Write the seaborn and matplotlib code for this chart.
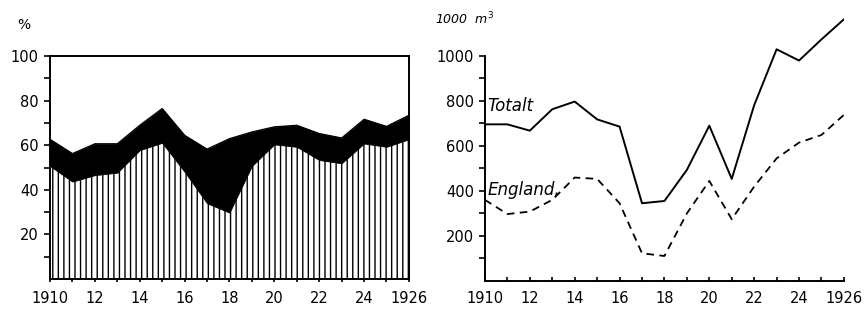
import numpy as np
import matplotlib
matplotlib.use("Agg")
import matplotlib.pyplot as plt
import seaborn as sns

# -------------------- DATA --------------------------------
years = list(range(1910, 1927))

# left panel: share in % (hatched part and top of black band)
pct_lower = [50.7, 43.7, 46.6, 47.7, 57.8, 61.1, 48.1, 34.0, 29.8,
             50.7, 60.4, 59.3, 53.4, 51.9, 60.8, 59.3, 62.7]
pct_upper = [62.7, 56.3, 60.7, 60.7, 69.0, 76.5, 64.5, 58.3, 63.0,
             66.0, 68.3, 69.0, 65.3, 63.3, 71.7, 68.5, 73.5]

# right panel: volume in 1000 m3
totalt = [695, 695, 667, 762, 796, 717, 685, 345, 355,
          493, 689, 453, 780, 1028, 978, 1072, 1161]
england = [360, 297, 308, 360, 459, 453, 345, 123, 111,
           300, 444, 274, 419, 544, 614, 648, 737]

xtick_labels = ["1910", "", "12", "", "14", "", "16", "", "18", "",
                "20", "", "22", "", "24", "", "1926"]

# -------------------- STYLE -------------------------------
sns.set_style("ticks")
plt.rcParams['font.family'] = ['DejaVu Sans']
plt.rcParams['hatch.linewidth'] = 1.0
for k in ['text.color', 'axes.labelcolor', 'xtick.color', 'ytick.color',
          'axes.edgecolor']:
    plt.rcParams[k] = 'black'
FS = 10.5

fig = plt.figure(figsize=(8.66, 3.10), dpi=100)

# -------------------- LEFT PANEL --------------------------
ax1 = fig.add_axes([0.0577, 0.100, 0.4145, 0.719])
# 18 vertical lines per inch -> about 5.6 px apart, like the original
ax1.fill_between(years, 0, pct_lower, facecolor="white", edgecolor="black",
                 hatch="|||", linewidth=0)
ax1.fill_between(years, pct_lower, pct_upper, color="black", linewidth=0.6)
sns.lineplot(x=years, y=pct_upper, color="black", linewidth=0.8, ax=ax1)
ax1.set_xlim(1910, 1926)
ax1.set_ylim(0, 100)
ax1.set_xticks(years)
ax1.set_xticklabels(xtick_labels, fontsize=FS)
ax1.set_yticks(range(10, 101, 10))
ax1.set_yticklabels(["", "20", "", "40", "", "60", "", "80", "", "100"],
                    fontsize=FS)
ax1.tick_params(axis="y", direction="out", length=4, width=1.2, pad=4)
ax1.tick_params(axis="x", direction="out", length=2.5, width=1.2, pad=6)
for s in ax1.spines.values():
    s.set_linewidth(1.4)
ax1.text(-0.09, 1.11, "%", transform=ax1.transAxes, fontsize=10,
         ha="left", va="bottom")

# -------------------- RIGHT PANEL -------------------------
ax2 = fig.add_axes([0.560, 0.0935, 0.4145, 0.8726])
sns.lineplot(x=years, y=totalt, color="black", linewidth=1.4, ax=ax2)
sns.lineplot(x=years, y=england, color="black", linewidth=1.3,
             dashes=False, ax=ax2)
ax2.lines[-1].set_dashes((4.2, 3.0))
ax2.set_xlim(1910, 1926)
ax2.set_ylim(0, 1200)
ax2.set_xticks(years)
ax2.set_xticklabels(xtick_labels, fontsize=FS)
ax2.set_yticks(range(100, 1001, 100))
ax2.set_yticklabels(["", "200", "", "400", "", "600", "", "800", "", "1000"],
                    fontsize=FS)
ax2.tick_params(axis="y", direction="out", length=4, width=1.2, pad=4)
ax2.tick_params(axis="x", direction="in", length=3, width=1.2, pad=7)
sns.despine(ax=ax2)
ax2.spines["left"].set_bounds(0, 1000)
for s in ax2.spines.values():
    s.set_linewidth(1.4)

ax2.text(1910.1, 776, "Totalt", style="italic", fontsize=12,
         ha="left", va="center")
ax2.text(1910.1, 404, "England,", style="italic", fontsize=12,
         ha="left", va="center")
ax2.text(-0.14, 1.0, "1000  m$^3$", transform=ax2.transAxes, style="italic",
         fontsize=9, ha="left", va="top")

plt.savefig("out.png", dpi=100)
